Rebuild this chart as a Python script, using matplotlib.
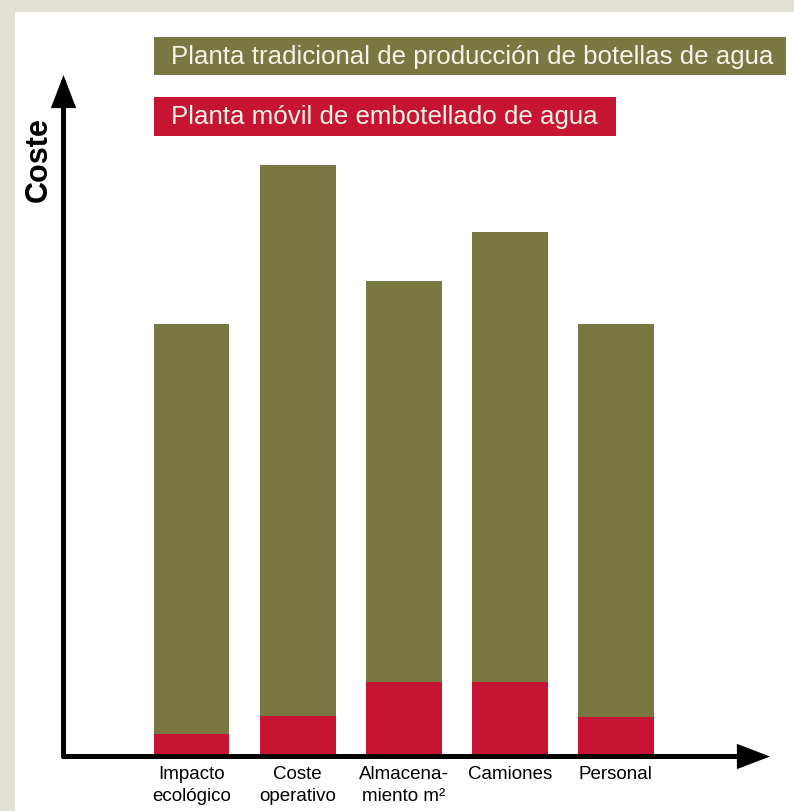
import matplotlib
matplotlib.use("Agg")
import matplotlib.pyplot as plt
from matplotlib.patches import Rectangle

plt.rcParams['font.family'] = ['Liberation Sans', 'DejaVu Sans']

# ---- data ----
categories = ["Impacto\necológico", "Coste\noperativo", "Almacena-\nmiento m²", "Camiones", "Personal"]
traditional = [430, 589, 473, 522, 430]   # Planta tradicional (olive)
mobile = [20, 38.5, 72, 72, 37.5]         # Planta móvil (red)
legend_labels = ["Planta tradicional de producción de botellas de agua",
                 "Planta móvil de embotellado de agua"]
y_label = "Coste"

OLIVE = "#7a7842"
RED = "#c61432"
BEIGE = "#e3e0d5"

W, H = 794, 811
fig = plt.figure(figsize=(W / 100, H / 100), dpi=100)
fig.patch.set_facecolor(BEIGE)

# overlay in pixel coordinates (top-left origin) for decorations
ov = fig.add_axes([0, 0, 1, 1], zorder=0)
ov.set_xlim(0, W)
ov.set_ylim(H, 0)
ov.axis('off')
ov.add_patch(Rectangle((15, 12), W - 15, H - 12, facecolor='white', edgecolor='none'))

# legend boxes
ov.add_patch(Rectangle((154, 37), 632, 38, facecolor=OLIVE, edgecolor='none'))
ov.text(171, 57, legend_labels[0], color='#f7f5ea', fontsize=18.6, va='center', ha='left')
ov.add_patch(Rectangle((154, 97), 462, 39, facecolor=RED, edgecolor='none'))
ov.text(171, 117, legend_labels[1], color='#f7f5ea', fontsize=18.6, va='center', ha='left')

# y label
ov.text(39, 160, y_label, rotation=90, fontsize=22, fontweight='bold', ha='center', va='center')

# main axes
left_px, right_px, top_px, bot_px = 63.5, 770, 75, 756.5
ax = fig.add_axes([left_px / W, (H - bot_px) / H, (right_px - left_px) / W, (bot_px - top_px) / H], zorder=1)
ax.patch.set_alpha(0)
for s in ax.spines.values():
    s.set_visible(False)

x = list(range(len(categories)))
ax.bar(x, traditional, width=0.716, color=OLIVE, zorder=2)
ax.bar(x, mobile, width=0.716, color=RED, zorder=3)

spacing = 106.1
ax.set_xlim((left_px - 191.5) / spacing, (right_px - 191.5) / spacing)
ax.set_ylim(-2.5, bot_px - top_px - 2.5)
ax.set_yticks([])
ax.set_xticks(x)
ax.set_xticklabels(categories, fontsize=13.5, linespacing=1.45)
ax.tick_params(axis='x', length=0, pad=6.5)

arrow_kw = dict(arrowstyle='-|>,head_length=17,head_width=6.5', lw=3.6, color='black',
                mutation_scale=1, shrinkA=0, shrinkB=0, joinstyle='miter')
ax.annotate('', xy=(0, 1), xytext=(0, 0), xycoords='axes fraction', arrowprops=arrow_kw, zorder=5)
ax.annotate('', xy=(1, 0), xytext=(0, 0), xycoords='axes fraction', arrowprops=arrow_kw, zorder=5)

fig.savefig("out.png", dpi=100, facecolor=fig.get_facecolor())
